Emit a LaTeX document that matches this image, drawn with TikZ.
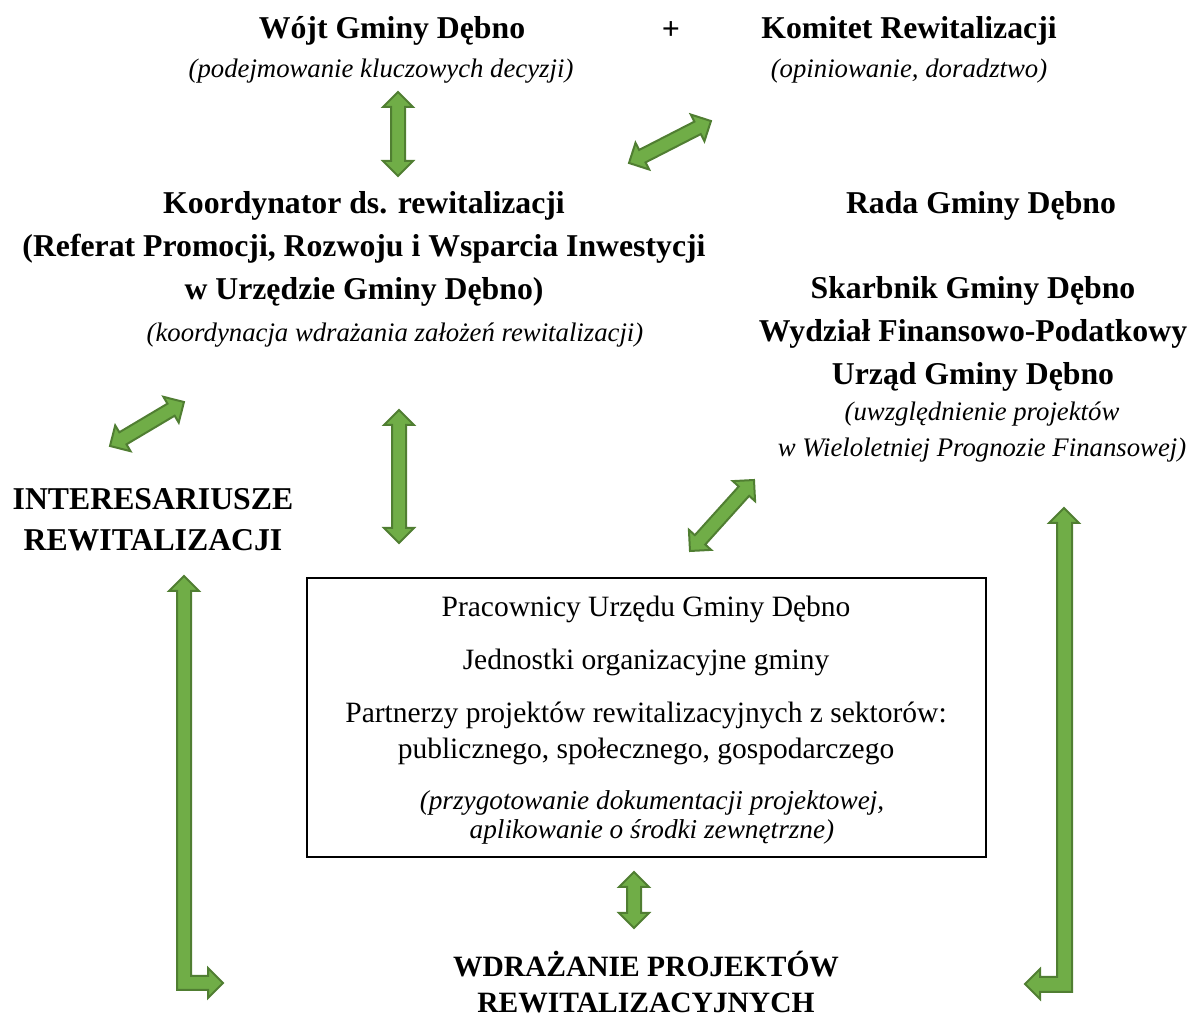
\documentclass[tikz,border=0pt]{standalone}
\usepackage{fontspec}
\setmainfont{Liberation Serif}
\usepackage{tikz}
\usetikzlibrary{calc,positioning}
\definecolor{arrowfill}{HTML}{70AD47}
\definecolor{arrowline}{HTML}{507E32}
\tikzset{every picture/.style={
  line join=miter                % sharp block arrow corners.
  }
}

\begin{document}
\begin{tikzpicture}[
    x=0.4pt, y=-0.4pt,
    head/.style={
      font=\bfseries\fontsize{12.7}{17.2}\selectfont,
      align=center,
      inner sep=0pt
    },
    role/.style={
      font=\itshape\fontsize{10.7}{14.4}\selectfont,
      align=center,
      inner sep=0pt
    },
    plain/.style={
      font=\fontsize{11.8}{14.4}\selectfont,
      align=center,
      inner sep=0pt
    },
    blockarrow/.style={
      fill=arrowfill,
      draw=arrowline,
      line width=0.8pt
    }]

    % Helper macro: double block arrow between two coordinates.
    \def\barrow#1#2{
      \filldraw[blockarrow] let \p1=(#1), \p2=(#2),
          \n1={atan2(\y2-\y1,\x2-\x1)}, \n2={veclen(\x2-\x1,\y2-\y1)} in
        [shift={(\p1)}, rotate=\n1]
        (0pt,0pt) -- (6pt,6pt) -- (6pt,2.8pt) -- (\n2-6pt,2.8pt) --
        (\n2-6pt,6pt) -- (\n2,0pt) -- (\n2-6pt,-6pt) -- (\n2-6pt,-2.8pt) --
        (6pt,-2.8pt) -- (6pt,-6pt) -- cycle;
    }

    \useasboundingbox (0,0) rectangle (1189,1017);

    % Decision level.
    \node[head] (wojt) at (392,31) {Wójt Gminy Dębno};
    \node[head] (plus) at (671,31) {+};
    \node[head] (komitet) at (909,31) {Komitet Rewitalizacji};
    \node[role] (wojtrole) at (381,71) {(podejmowanie kluczowych decyzji)};
    \node[role] (komitetrole) at (909,71) {(opiniowanie, doradztwo)};

    % Coordinator.
    \node[head] (koord) at (364,249)
      {Koordynator ds. rewitalizacji\\
       (Referat Promocji, Rozwoju i Wsparcia Inwestycji\\
       w Urzędzie Gminy Dębno)};
    \node[role] (koordrole) at (395,335)
      {(koordynacja wdrażania założeń rewitalizacji)};

    % Council and treasurer.
    \node[head] (rada) at (981,206) {Rada Gminy Dębno};
    \node[head] (skarbnik) at (973,334)
      {Skarbnik Gminy Dębno\\
       Wydział Finansowo-Podatkowy\\
       Urząd Gminy Dębno};
    \node[role] (skarbnikrole) at (982,432)
      {(uwzględnienie projektów\\
       w Wieloletniej Prognozie Finansowej)};

    % Stakeholders.
    \node[head,font=\bfseries\fontsize{12.7}{16.4}\selectfont] (interes) at (153,520)
      {INTERESARIUSZE\\REWITALIZACJI};

    % Box with the executing units.
    \node[draw,line width=0.8pt,minimum width=271.6pt,minimum height=111.6pt]
      (units) at (646.5,717.5) {};
    \node[plain] (pracownicy) at (646,609) {Pracownicy Urzędu Gminy Dębno};
    \node[plain] (jednostki) at (646,662) {Jednostki organizacyjne gminy};
    \node[plain] (partnerzy) at (646,733)
      {Partnerzy projektów rewitalizacyjnych z sektorów:\\
       publicznego, społecznego, gospodarczego};
    \node[role,font=\itshape\fontsize{10.9}{11.6}\selectfont] (unitsrole) at (652,817)
      {(przygotowanie dokumentacji projektowej,\\
       aplikowanie o środki zewnętrzne)};

    % Implementation.
    \node[head,font=\bfseries\fontsize{11.8}{14.4}\selectfont] (wdrazanie) at (646,982)
      {WDRAŻANIE PROJEKTÓW\\REWITALIZACYJNYCH};

    % Arrow end points.
    \coordinate (wk1) at (398,92);   \coordinate (wk2) at (398,176);
    \coordinate (kk1) at (629,163);  \coordinate (kk2) at (711,121);
    \coordinate (ik1) at (110,446);  \coordinate (ik2) at (184,402);
    \coordinate (ku1) at (399,410);  \coordinate (ku2) at (399,543);
    \coordinate (su1) at (690,551);  \coordinate (su2) at (754,480);
    \coordinate (uw1) at (634,872);  \coordinate (uw2) at (634,928);

    % Straight double arrows.
    \barrow{wk1}{wk2}
    \barrow{kk1}{kk2}
    \barrow{ik1}{ik2}
    \barrow{ku1}{ku2}
    \barrow{su1}{su2}
    \barrow{uw1}{uw2}

    % Elbow arrows down to the implementation.
    \filldraw[blockarrow] (184,576) -- (199,591) -- (191,591) -- (191,976) --
      (208,976) -- (208,968) -- (223,983) -- (208,998) -- (208,990) --
      (177,990) -- (177,591) -- (169,591) -- cycle;
    \filldraw[blockarrow] (1064,508) -- (1079,523) -- (1072,523) -- (1072,992) --
      (1040,992) -- (1040,999) -- (1025,984) -- (1040,969) -- (1040,977) --
      (1057,977) -- (1057,523) -- (1049,523) -- cycle;
  \end{tikzpicture}
\end{document}
